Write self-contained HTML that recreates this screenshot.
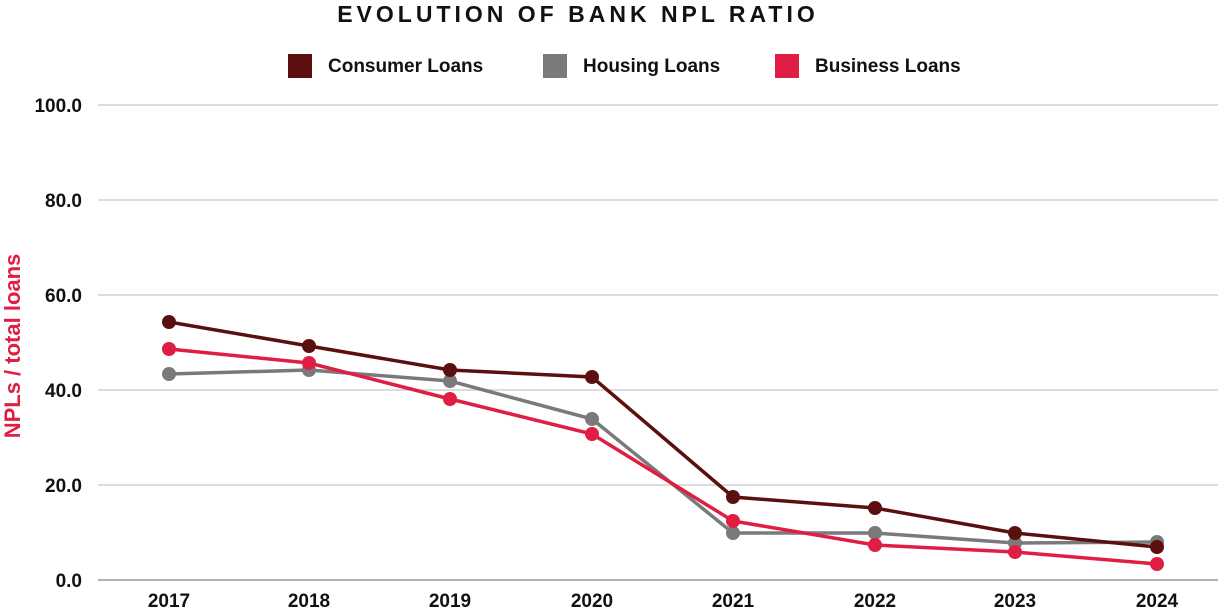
<!DOCTYPE html>
<html><head><meta charset="utf-8"><style>
html,body{margin:0;padding:0;background:#fff;}
svg{display:block;font-family:"Liberation Sans",sans-serif;}
</style></head><body>
<svg width="1229" height="608" viewBox="0 0 1229 608">
<text x="578" y="22" text-anchor="middle" font-size="23" font-weight="bold" letter-spacing="4" fill="#111">EVOLUTION OF BANK NPL RATIO</text>
<rect x="288" y="54" width="24" height="24" fill="#5c0f0f"/>
<text x="328" y="72" font-size="19" font-weight="bold" fill="#111">Consumer Loans</text>
<rect x="543" y="54" width="24" height="24" fill="#7a7a7a"/>
<text x="583" y="72" font-size="19" font-weight="bold" fill="#111">Housing Loans</text>
<rect x="775" y="54" width="24" height="24" fill="#e01e44"/>
<text x="815" y="72" font-size="19" font-weight="bold" fill="#111">Business Loans</text>
<g stroke="#d0d0d0" stroke-width="1.5">
<line x1="98" y1="105" x2="1218" y2="105"/><line x1="98" y1="200" x2="1218" y2="200"/>
<line x1="98" y1="295" x2="1218" y2="295"/><line x1="98" y1="390" x2="1218" y2="390"/>
<line x1="98" y1="485" x2="1218" y2="485"/></g>
<line x1="98" y1="580" x2="1218" y2="580" stroke="#999" stroke-width="1.5"/>
<g font-size="19" font-weight="bold" fill="#111" text-anchor="end">
<text x="82" y="112">100.0</text><text x="82" y="207">80.0</text><text x="82" y="302">60.0</text>
<text x="82" y="397">40.0</text><text x="82" y="492">20.0</text><text x="82" y="587">0.0</text></g>
<g font-size="19" font-weight="bold" fill="#111" text-anchor="middle">
<text x="169" y="607">2017</text><text x="309" y="607">2018</text><text x="450" y="607">2019</text><text x="592" y="607">2020</text>
<text x="733" y="607">2021</text><text x="875" y="607">2022</text><text x="1015" y="607">2023</text><text x="1157" y="607">2024</text></g>
<text transform="translate(20,346) rotate(-90)" text-anchor="middle" font-size="22" font-weight="bold" fill="#e01e44">NPLs /  total loans</text>
<g fill="none" stroke-width="3.5">
<polyline stroke="#7a7a7a" points="169,374 309,370 450,381 592,419 733,533 875,533 1015,543 1157,542"/>
<polyline stroke="#e01e44" points="169,349 309,363 450,399 592,434 733,521 875,545 1015,552 1157,564"/>
<polyline stroke="#5c0f0f" points="169,322 309,346 450,370 592,377 733,497 875,508 1015,533 1157,547"/>
</g>
<g fill="#7a7a7a"><circle cx="169" cy="374" r="7"/><circle cx="309" cy="370" r="7"/><circle cx="450" cy="381" r="7"/><circle cx="592" cy="419" r="7"/><circle cx="733" cy="533" r="7"/><circle cx="875" cy="533" r="7"/><circle cx="1015" cy="543" r="7"/><circle cx="1157" cy="542" r="7"/></g>
<g fill="#e01e44"><circle cx="169" cy="349" r="7"/><circle cx="309" cy="363" r="7"/><circle cx="450" cy="399" r="7"/><circle cx="592" cy="434" r="7"/><circle cx="733" cy="521" r="7"/><circle cx="875" cy="545" r="7"/><circle cx="1015" cy="552" r="7"/><circle cx="1157" cy="564" r="7"/></g>
<g fill="#5c0f0f"><circle cx="169" cy="322" r="7"/><circle cx="309" cy="346" r="7"/><circle cx="450" cy="370" r="7"/><circle cx="592" cy="377" r="7"/><circle cx="733" cy="497" r="7"/><circle cx="875" cy="508" r="7"/><circle cx="1015" cy="533" r="7"/><circle cx="1157" cy="547" r="7"/></g>
</svg>
</body></html>
